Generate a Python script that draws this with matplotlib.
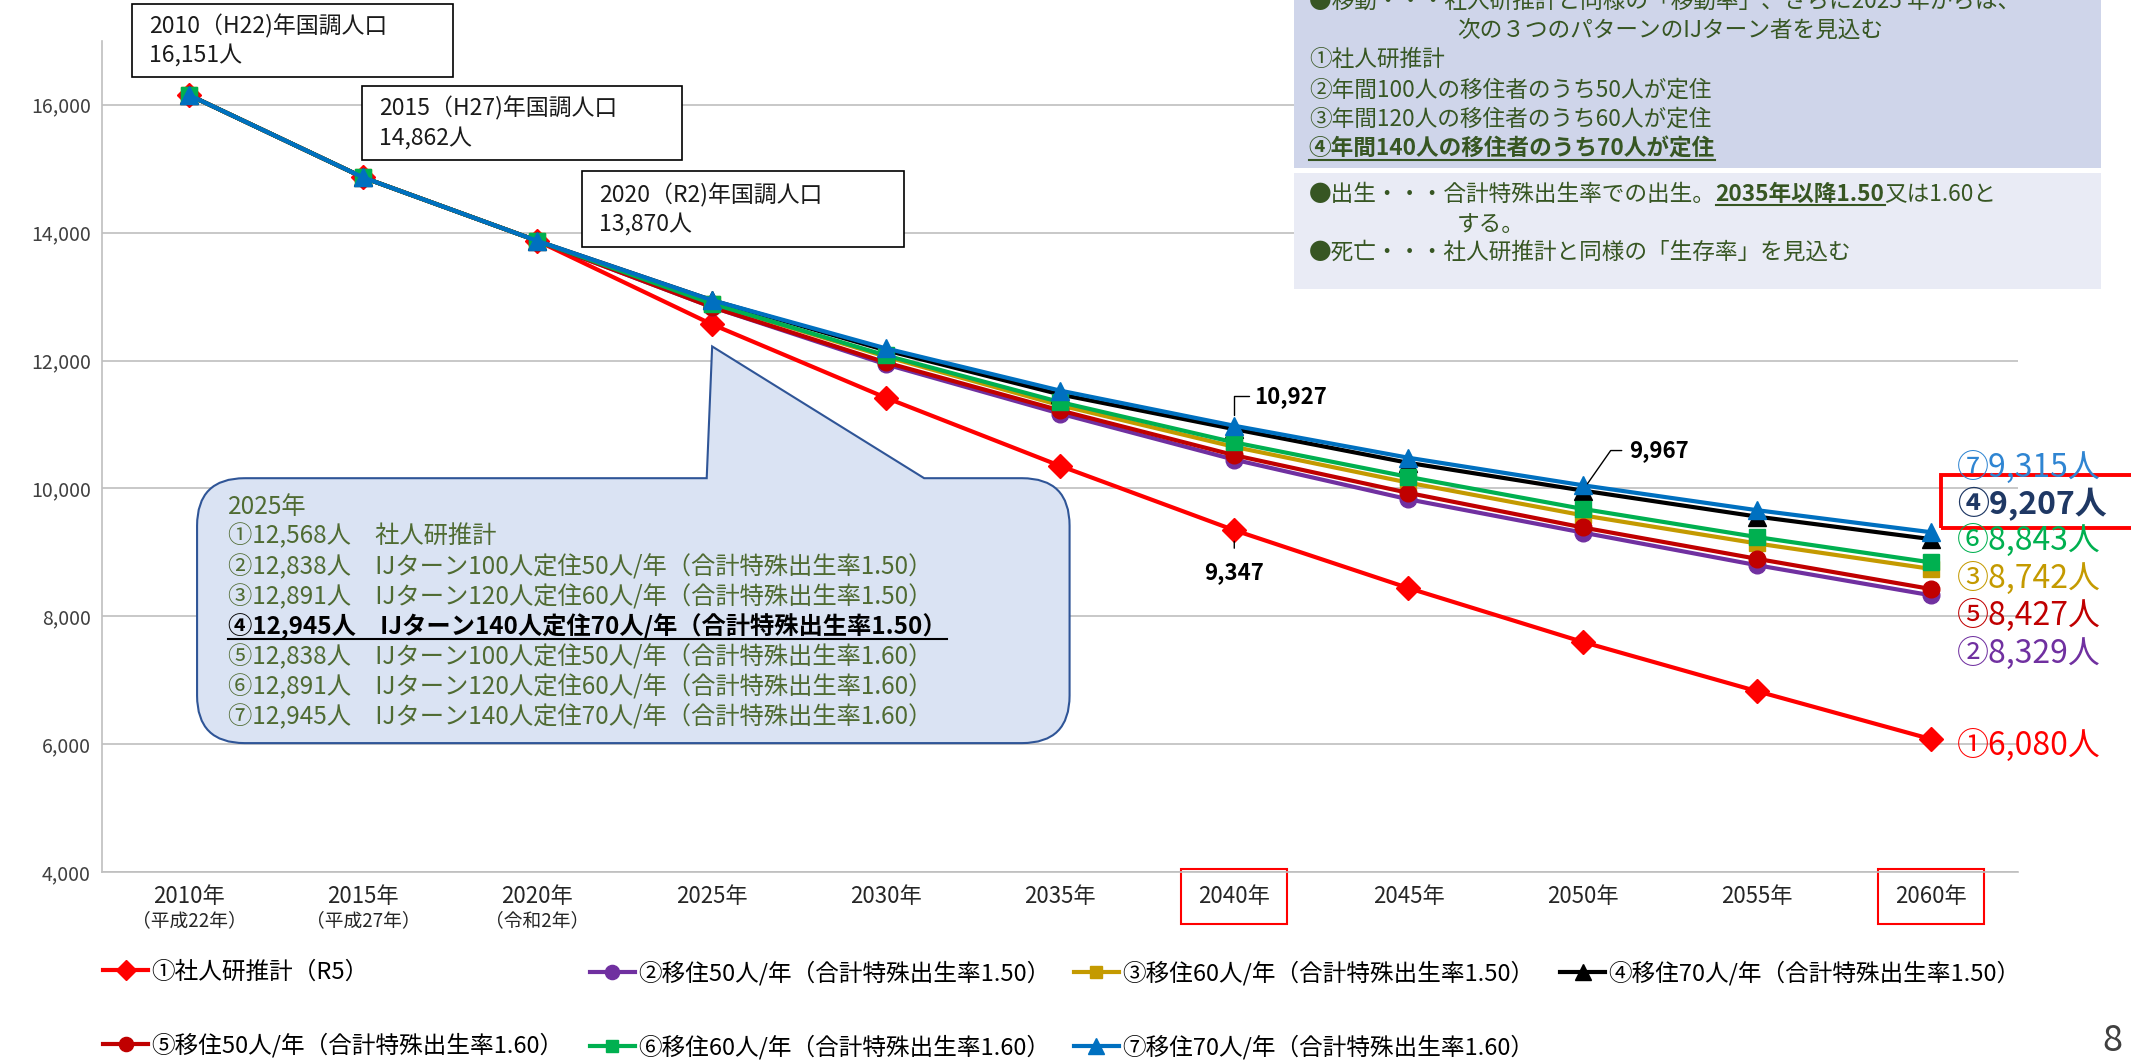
import matplotlib
matplotlib.use('Agg')
import matplotlib.pyplot as plt
from matplotlib.path import Path
from matplotlib.patches import PathPatch, Rectangle
from matplotlib.lines import Line2D

plt.rcParams['font.family'] = ['Noto Sans CJK JP', 'DejaVu Sans']

# ---- data -------------------------------------------------------------
years = ['2010年', '2015年', '2020年', '2025年', '2030年', '2035年',
         '2040年', '2045年', '2050年', '2055年', '2060年']
eras = ['（平成22年）', '（平成27年）', '（令和2年）'] + [''] * 8

pop_1 = [16151, 14862, 13870, 12568, 11418, 10353, 9347, 8442, 7600, 6830, 6080]
pop_2 = [16151, 14862, 13870, 12838, 11940, 11170, 10450, 9830, 9310, 8800, 8329]
pop_3 = [16151, 14862, 13870, 12891, 12060, 11300, 10650, 10090, 9580, 9140, 8742]
pop_4 = [16151, 14862, 13870, 12945, 12160, 11470, 10927, 10400, 9967, 9560, 9207]
pop_5 = [16151, 14862, 13870, 12838, 11970, 11220, 10520, 9930, 9390, 8900, 8427]
pop_6 = [16151, 14862, 13870, 12891, 12080, 11350, 10720, 10180, 9680, 9240, 8843]
pop_7 = [16151, 14862, 13870, 12945, 12190, 11530, 10980, 10480, 10050, 9660, 9315]

series = [pop_1, pop_2, pop_3, pop_4, pop_5, pop_6, pop_7]
names = ['①社人研推計（R5）',
         '②移住50人/年（合計特殊出生率1.50）',
         '③移住60人/年（合計特殊出生率1.50）',
         '④移住70人/年（合計特殊出生率1.50）',
         '⑤移住50人/年（合計特殊出生率1.60）',
         '⑥移住60人/年（合計特殊出生率1.60）',
         '⑦移住70人/年（合計特殊出生率1.60）']
circled = ['①', '②', '③', '④', '⑤', '⑥', '⑦']
colors = ['#FF0000', '#7030A0', '#C49A00', '#000000', '#C00000', '#00B050', '#0070C0']
markers = ['D', 'o', 's', '^', 'o', 's', '^']
msizes = [12, 12, 11, 13, 12, 11, 13]

census_notes = ['2010（H22)年国調人口\n16,151人',
                '2015（H27)年国調人口\n14,862人',
                '2020（R2)年国調人口\n13,870人']

callout_lines = ['2025年',
                 '①12,568人　社人研推計',
                 '②12,838人　IJターン100人定住50人/年（合計特殊出生率1.50）',
                 '③12,891人　IJターン120人定住60人/年（合計特殊出生率1.50）',
                 '④12,945人　IJターン140人定住70人/年（合計特殊出生率1.50）',
                 '⑤12,838人　IJターン100人定住50人/年（合計特殊出生率1.60）',
                 '⑥12,891人　IJターン120人定住60人/年（合計特殊出生率1.60）',
                 '⑦12,945人　IJターン140人定住70人/年（合計特殊出生率1.60）']

# ---- layout helpers (reference preview grid 1568 x 781) ---------------
W, H = 1568, 781
FW, FH = 21.31, 10.61


def fx(x):
    return x / W


def fy(y):
    return 1 - y / H


def inch(x, y):
    return (x * FW / W, (H - y) * FH / H)


fig = plt.figure(figsize=(FW, FH), dpi=100)
ax = fig.add_axes([fx(75), fy(642), fx(1485) - fx(75), fy(30) - fy(642)])

x = list(range(len(years)))
handles = []
for vals, name, c, m, ms in zip(series, names, colors, markers, msizes):
    h, = ax.plot(x, vals, color=c, marker=m, markersize=ms, lw=3,
                 label=name, zorder=3, clip_on=False)
    handles.append(h)

ax.set_xlim(-0.5, 10.5)
ax.set_ylim(4000, 17000)
ax.set_yticks(range(4000, 16001, 2000))
ax.set_yticklabels([f'{v:,}' for v in range(4000, 16001, 2000)],
                   fontsize=14, color='#404040')
ax.tick_params(axis='y', length=0, pad=8)
ax.set_xticks(x)
ax.set_xticklabels([])
ax.tick_params(axis='x', length=0)
ax.grid(axis='y', color='#BFBFBF', lw=1.2)
ax.set_axisbelow(True)
for s in ['top', 'right']:
    ax.spines[s].set_visible(False)
for s in ['left', 'bottom']:
    ax.spines[s].set_color('#BFBFBF')
    ax.spines[s].set_linewidth(1.2)

# x labels with era sub-labels
xt = ax.get_xaxis_transform()
for i, (yr, era) in enumerate(zip(years, eras)):
    ax.text(i, -0.029, yr, transform=xt, ha='center', va='center',
            fontsize=16, color='#262626')
    if era:
        ax.text(i, -0.058, era, transform=xt, ha='center', va='center',
                fontsize=13.5, color='#262626')
for i in [6, 10]:
    ax.add_patch(Rectangle((i - 0.305, -0.062), 0.61, 0.066, transform=xt,
                           fill=False, ec='#FF0000', lw=1.5, clip_on=False))

# value call-outs
lab = dict(fontsize=16, fontweight='bold', color='black')
ax.annotate(f'{pop_4[6]:,}', xy=(6, pop_4[6]), xytext=(20, 33),
            textcoords='offset pixels', ha='left', va='center',
            arrowprops=dict(arrowstyle='-', color='black', lw=1,
                            connectionstyle='angle,angleA=0,angleB=90,rad=0',
                            shrinkA=2, shrinkB=10), **lab)
ax.annotate(f'{pop_1[6]:,}', xy=(6, pop_1[6]), xytext=(0, -42),
            textcoords='offset pixels', ha='center', va='center',
            arrowprops=dict(arrowstyle='-', color='black', lw=1,
                            shrinkA=7, shrinkB=8), **lab)
ax.annotate(f'{pop_4[8]:,}', xy=(8, pop_4[8]), xytext=(46, 40),
            textcoords='offset pixels', ha='left', va='center',
            arrowprops=dict(arrowstyle='-', color='black', lw=1,
                            connectionstyle='angle,angleA=0,angleB=55,rad=0',
                            shrinkA=3, shrinkB=6), **lab)

# end-of-line labels
end_order = [6, 3, 5, 2, 4, 1, 0]
end_y = [344, 371, 398, 426, 453, 481, 549]
end_colors = ['#2F85D2', '#1F3864', '#00B050', '#C49A00', '#C00000', '#7030A0', '#FF0000']
for k, yy, c in zip(end_order, end_y, end_colors):
    fig.text(fx(1440), fy(yy), f'{circled[k]}{series[k][-1]:,}人', ha='left', va='center',
             fontsize=23, color=c, fontweight='bold' if k == 3 else 'normal')
fig.add_artist(Rectangle((fx(1428), fy(389)), fx(160), fy(350) - fy(389),
                         transform=fig.transFigure, fill=False, ec='#FF0000', lw=2.8))

# census boxes
for (x0, y0, x1, y1), txt in zip([(97, 3, 333, 57), (266, 63, 502, 118), (428, 126, 665, 182)],
                                 census_notes):
    fig.add_artist(Rectangle((fx(x0), fy(y1)), fx(x1 - x0), fy(y0) - fy(y1),
                             transform=fig.transFigure, fc='white', ec='black', lw=1.2, zorder=5))
    fig.text(fx(x0 + 13), fy((y0 + y1) / 2), txt, ha='left', va='center', fontsize=16.5,
             color='#1A1A1A', linespacing=1.3, zorder=6)

renderer = fig.canvas.get_renderer()


def underline(t, color, lw=1.5):
    bb = t.get_window_extent(renderer).transformed(fig.transFigure.inverted())
    fig.add_artist(Line2D([bb.x0, bb.x1], [bb.y0 + 0.001, bb.y0 + 0.001],
                          transform=fig.transFigure, color=color, lw=lw, zorder=8))
    return bb


# callout balloon
r = 35
bx0, by0, bx1, by1 = 145, 352, 787, 547
px0, px1, apex = 520, 680, (524, 255)
verts = [(bx0 + r, by0), (px0, by0), apex, (px1, by0), (bx1 - r, by0),
         (bx1, by0), (bx1, by0 + r), (bx1, by1 - r), (bx1, by1), (bx1 - r, by1),
         (bx0 + r, by1), (bx0, by1), (bx0, by1 - r), (bx0, by0 + r), (bx0, by0),
         (bx0 + r, by0)]
codes = [Path.MOVETO, Path.LINETO, Path.LINETO, Path.LINETO, Path.LINETO,
         Path.CURVE3, Path.CURVE3, Path.LINETO, Path.CURVE3, Path.CURVE3,
         Path.LINETO, Path.CURVE3, Path.CURVE3, Path.LINETO, Path.CURVE3, Path.CURVE3]
balloon = Path([inch(*v) for v in verts], codes)
fig.add_artist(PathPatch(balloon, transform=fig.dpi_scale_trans, fc='#DAE3F3',
                         ec='#2F5597', lw=1.5, zorder=5))
for i, line in enumerate(callout_lines):
    bold = line.startswith('④')
    t = fig.text(fx(168), fy(373 + 22.1 * i), line, ha='left', va='center',
                 fontsize=17.5, color='black' if bold else '#4F6B32',
                 fontweight='bold' if bold else 'normal', zorder=6)
    if bold:
        underline(t, 'black')

# assumptions panel (top right)
fig.add_artist(Rectangle((fx(952), fy(124)), fx(594), fy(-10) - fy(124),
                         transform=fig.transFigure, fc='#CFD5EA', ec='none', zorder=4))
fig.add_artist(Rectangle((fx(952), fy(213)), fx(594), fy(127) - fy(213),
                         transform=fig.transFigure, fc='#E9EBF5', ec='none', zorder=4))
green = '#375623'
txt = dict(ha='left', va='center', fontsize=16.3, color=green, zorder=6)
fig.text(fx(963), fy(1), '●移動・・・社人研推計と同様の「移動率」、さらに2025 年からは、', **txt)
fig.text(fx(1072), fy(22), '次の３つのパターンのIJターン者を見込む', **txt)
fig.text(fx(963), fy(44), '①社人研推計', **txt)
fig.text(fx(963), fy(66), '②年間100人の移住者のうち50人が定住', **txt)
fig.text(fx(963), fy(88), '③年間120人の移住者のうち60人が定住', **txt)
t4 = fig.text(fx(963), fy(110), '④年間140人の移住者のうち70人が定住', fontweight='bold', **txt)
underline(t4, green)
ta = fig.text(fx(963), fy(143), '●出生・・・合計特殊出生率での出生。', **txt)
bb = ta.get_window_extent(renderer).transformed(fig.transFigure.inverted())
tb = fig.text(bb.x1, fy(143), '2035年以降1.50', fontweight='bold', **txt)
bb = underline(tb, green)
fig.text(bb.x1, fy(143), '又は1.60と', **txt)
fig.text(fx(1072), fy(165), 'する。', **txt)
fig.text(fx(963), fy(186), '●死亡・・・社人研推計と同様の「生存率」を見込む', **txt)

# legend in four columns
for x0, idx in zip([76, 434, 790, 1148], [[0, 4], [1, 5], [2, 6], [3]]):
    fig.legend([handles[i] for i in idx], [names[i] for i in idx], loc='upper left',
               bbox_to_anchor=(fx(x0), fy(707)), frameon=False, fontsize=17,
               handlelength=1.9, handletextpad=0.15, borderpad=0, borderaxespad=0,
               labelspacing=2.1, markerscale=0.85)

fig.text(fx(1547), fy(766), '8', ha='left', va='center', fontsize=26, color='#404040')

fig.savefig('out.png', dpi=100)
